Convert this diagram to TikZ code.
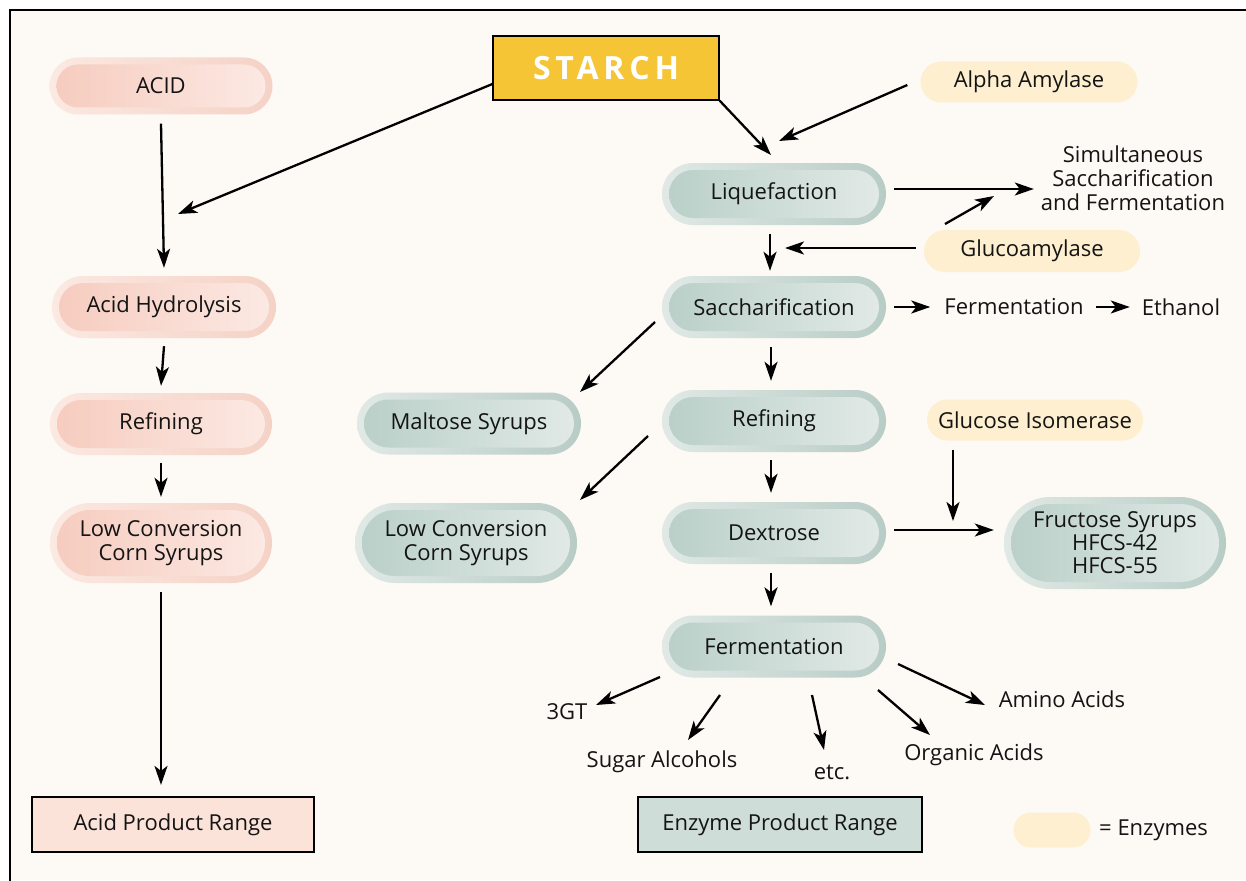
\documentclass[tikz,border=0pt]{standalone}
\usepackage{fontspec}
\setmainfont{Open Sans}
\newfontfamily\starchfont[LetterSpace=15]{Open Sans}
\usetikzlibrary{shapes.misc,arrows.meta,calc}
\definecolor{cream}{HTML}{FDF9F4}
\definecolor{starchY}{HTML}{F5C535}
\definecolor{enzY}{HTML}{FDEFD0}
\definecolor{tOutL}{HTML}{E0E9E6}
\definecolor{tOutR}{HTML}{B8CCC6}
\definecolor{tInL}{HTML}{B9CFC8}
\definecolor{tInR}{HTML}{E2EAE7}
\definecolor{pOutL}{HTML}{FBE9E2}
\definecolor{pOutR}{HTML}{F5D2C6}
\definecolor{pInL}{HTML}{F6CBBE}
\definecolor{pInR}{HTML}{FCEAE4}
\definecolor{aprF}{HTML}{FBE3D9}
\definecolor{eprF}{HTML}{CFDDD8}
\definecolor{ink}{HTML}{141414}
\tikzset{
  inr/.store in=\innerR, inr=24pt,
  pill/.style n args={4}{rounded rectangle, draw=none, minimum width=228pt,
    minimum height=62pt, inner sep=2pt, align=center, left color=#1, right color=#2,
    path picture={\shade[left color=#3, right color=#4, rounded corners=\innerR]
      ([shift={(7pt,7pt)}]path picture bounding box.south west) rectangle
      ([shift={(-7pt,-7pt)}]path picture bounding box.north east);}},
  tpill/.style={pill={tOutL}{tOutR}{tInL}{tInR}},
  ppill/.style={pill={pOutL}{pOutR}{pInL}{pInR}},
  enz/.style={rounded rectangle, fill=enzY, draw=none, minimum width=220pt,
    minimum height=41pt, inner sep=2pt},
  prange/.style={rectangle, draw=black, line width=2.2pt, minimum height=55pt, inner sep=2pt},
  lbl/.style={inner sep=2pt, align=center},
  arr/.style={-{Stealth[length=19pt,width=13pt,inset=5pt]}, line width=2.3pt, draw=black},
}
\begin{document}
\begin{tikzpicture}[x=1pt,y=-1pt, font=\fontsize{22}{25}\selectfont, text=ink]
\useasboundingbox (0,0) rectangle (1246,880);
\fill[white] (0,0) rectangle (1246,880);
\fill[cream] (10,10) rectangle (1246,880);
\draw[line width=2.5pt, line cap=rect] (10,880) -- (10,10) -- (1246,10);

% acid column
\node[ppill, minimum width=227pt, minimum height=57pt, inr=21.5pt] (acid) at (161,86) {ACID};
\node[ppill, inr=24pt] (ahyd) at (164,307) {Acid Hydrolysis};
\node[ppill, minimum width=226pt, inr=24pt] (aref) at (161,424) {Refining};
\node[ppill, minimum width=226pt, minimum height=80pt, inr=33pt] (alccs) at (161,543) {Low Conversion\\[-1pt]Corn Syrups};
\node[prange, fill=aprF, minimum width=282pt] (apr) at (173,824.5) {Acid Product Range};

% starch
\node[draw=black, line width=1.2pt, fill=starchY, minimum width=226pt, minimum height=64pt,
  text=white, font={\starchfont\fontsize{32}{36}\bfseries\selectfont}] (starch) at (606,68) {STARCH};

% enzyme column
\node[enz, minimum width=221pt] (alpha) at (1029,82) {Alpha Amylase};
\node[tpill] (liq) at (774,194) {Liquefaction};
\node[lbl] (ssf) at (1133,178) {Simultaneous\\[-1pt]Saccharification\\[-1pt]and Fermentation};
\node[enz, minimum height=42pt] (gluco) at (1032,251) {Glucoamylase};
\node[tpill] (sacch) at (774,307) {Saccharification};
\node[lbl] (fer1) at (1014,307) {Fermentation};
\node[lbl] (eth) at (1181,307) {Ethanol};
\node[tpill] (malt) at (469,423.5) {Maltose Syrups};
\node[tpill] (eref) at (774,421) {Refining};
\node[enz] (gi) at (1035,420) {Glucose Isomerase};
\node[tpill, minimum width=226pt, minimum height=80pt, inr=33pt] (elccs) at (466,543) {Low Conversion\\[-1pt]Corn Syrups};
\node[tpill] (dex) at (774,533) {Dextrose};
\node[tpill, minimum width=226pt, minimum height=92pt, inr=39pt] (fru) at (1115,543) {Fructose Syrups\\[-2pt]HFCS-42\\[-2pt]HFCS-55};
\node[tpill] (ferm) at (774,646.5) {Fermentation};
\node[lbl] (t3gt) at (567,712) {3GT};
\node[lbl] (sugar) at (662,762) {Sugar Alcohols};
\node[lbl] (etc) at (832,772) {etc.};
\node[lbl] (org) at (974,755) {Organic Acids};
\node[lbl] (amino) at (1062,699) {Amino Acids};
\node[prange, fill=eprF, minimum width=284pt] (epr) at (780,824.5) {Enzyme Product Range};

% legend
\node[enz, minimum width=81pt, minimum height=35pt] (leg) at (1052,830) {};
\node[lbl, anchor=west] (legt) at (1097,830) {= Enzymes};

% free ends
\coordinate (jA) at (178,214);
\coordinate (jB) at (779,141);
\coordinate (jC) at (994,196);
\coordinate (jE) at (953,521);

% acid arrows
\draw[arr] ([yshift=-9pt]acid.south) -- ([yshift=8pt]ahyd.north);
\draw[arr] ([yshift=-16pt]starch.west) -- (jA);
\draw[arr] ([yshift=-8pt]ahyd.south) -- ([yshift=7pt]aref.north);
\draw[arr] ([yshift=-8pt]aref.south) -- ([yshift=6pt]alccs.north);
\draw[arr, shorten <=9pt, shorten >=11pt] (alccs.south) -- (alccs.south |- apr.north);

% enzyme arrows
\draw[arr] (starch.south east) -- ([shift={(-3pt,39pt)}]liq.center);
\draw[arr] ([shift={(-13pt,-3pt)}]alpha.west) -- (jB);
\draw[arr, shorten <=8pt, shorten >=5pt] ([yshift=5pt]liq.east) -- ([yshift=5pt]liq.east -| ssf.west);
\draw[arr] ([shift={(-87pt,27pt)}]gluco.center) -- (jC);
\draw[arr] ([shift={(-4pt,-9pt)}]liq.south) -- ([shift={(-4pt,5pt)}]sacch.north);
\draw[arr, shorten <=8pt, shorten >=11pt] ([yshift=3pt]gluco.west) -- ([yshift=3pt]gluco.west -| liq.south);
\draw[arr, shorten <=8pt, shorten >=12pt] (sacch.east) -- (fer1.west);
\draw[arr, shorten <=10pt, shorten >=10pt] (fer1.east) -- (eth.west);
\draw[arr] ([shift={(-119pt,-15pt)}]sacch.center) -- ([shift={(111pt,31.5pt)}]malt.center);
\draw[arr] ([shift={(-3pt,-9pt)}]sacch.south) -- ([shift={(-3pt,9pt)}]eref.north);
\draw[arr] ([shift={(-126pt,-15pt)}]eref.center) -- ([shift={(114pt,43pt)}]elccs.center);
\draw[arr] ([shift={(-3pt,-8pt)}]eref.south) -- ([shift={(-3pt,9pt)}]dex.north);
\draw[arr, shorten <=8pt, shorten >=10pt] ([yshift=3pt]dex.east) -- ([yshift=3pt]dex.east -| fru.west);
\draw[arr] ([shift={(-82pt,-30pt)}]gi.center) -- (jE);
\draw[arr] ([shift={(-3pt,-9pt)}]dex.south) -- ([shift={(-3pt,9pt)}]ferm.north);
\draw[arr] ([shift={(-114pt,-30.5pt)}]ferm.center) -- ([shift={(29pt,7pt)}]t3gt.center);
\draw[arr] ([shift={(-54pt,-48.5pt)}]ferm.center) -- ([shift={(26pt,22pt)}]sugar.center);
\draw[arr] ([shift={(38pt,-48.5pt)}]ferm.center) -- ([shift={(-8pt,22pt)}]etc.center);
\draw[arr] ([shift={(104pt,-43.5pt)}]ferm.center) -- ([shift={(-44pt,20pt)}]org.center);
\draw[arr] ([shift={(124pt,-17.5pt)}]ferm.center) -- ([shift={(-77pt,-6pt)}]amino.center);
\end{tikzpicture}
\end{document}
